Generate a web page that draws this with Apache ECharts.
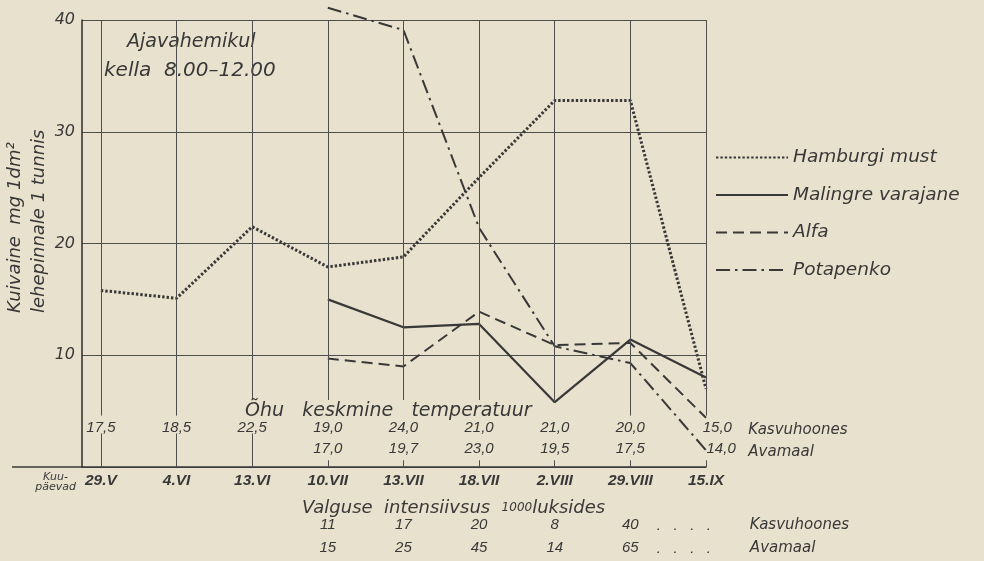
<!DOCTYPE html>
<html>
<head>
<meta charset="utf-8">
<script src="https://cdn.jsdelivr.net/npm/echarts@6/dist/echarts.min.js"></script>
<style>
html,body{margin:0;padding:0;background:#e8e1cd;}
#c{width:984px;height:561px;}
</style>
</head>
<body>
<div id="c"></div>
<script>
// ---- data ----
const dates = ['29.V','4.VI','13.VI','10.VII','13.VII','18.VII','2.VIII','29.VIII','15.IX'];
const hamburgi  = [15.8, 15.1, 21.5, 17.9, 18.8, 25.9, 32.8, 32.8, 7.0];
const malingre  = [null, null, null, 15.0, 12.5, 12.8, 5.8, 11.4, 8.0];
const alfa      = [null, null, null, 9.7, 9.0, 13.9, 10.9, 11.1, 4.4];
const potapenko = [null, null, null, 41.1, 39.1, 21.4, 10.8, 9.3, 1.5];
const tempGreenhouse = ['17,5','18,5','22,5','19,0','24,0','21,0','21,0','20,0','15,0'];
const tempOpen       = [null, null, null, '17,0','19,7','23,0','19,5','17,5','14,0'];
const lightGreenhouse = [null, null, null, 11, 17, 20, 8, 40, null];
const lightOpen       = [null, null, null, 15, 25, 45, 14, 65, null];
const seriesNames = ['Hamburgi must','Malingre varajane','Alfa','Potapenko'];
const yTicks = [10, 20, 30, 40];

// ---- chart ----
const INK = '#383838';
const GRID = '#4d4d4d';
const WORD = '"DejaVu Sans", sans-serif';
const NUM = '"Liberation Sans", Arial, sans-serif';

function pairs(arr){ return arr.map((v,i)=> v==null ? [i,null] : [i,v]); }

function txt(x, y, text, o){
  o = o || {};
  return {
    value:[x,y],
    label:{
      show:true, position:'inside', formatter:text,
      align:o.align||'center', verticalAlign:'middle',
      fontFamily:o.family||NUM, fontStyle:'italic',
      fontWeight:o.weight||'normal', fontSize:o.size||15, color:INK, opacity:1,
      lineHeight:o.lh||undefined, rich:o.rich||undefined
    }
  };
}

const texts = [];
texts.push(txt(3.8, 5.05, 'Õhu   keskmine   temperatuur', {family:WORD, size:19}));
tempGreenhouse.forEach((t,i)=>{ if(t) texts.push(txt(i===8?8.15:i, 3.5, t, {size:15})); });
tempOpen.forEach((t,i)=>{ if(t) texts.push(txt(i===8?8.2:i, 1.6, t, {size:15})); });
texts.push(txt(8.56, 3.3, 'Kasvuhoones', {align:'left', family:WORD, size:15}));
texts.push(txt(8.56, 1.3, 'Avamaal', {align:'left', family:WORD, size:15}));
texts.push(txt(2.66, -3.7, 'Valguse  intensiivsus  {s|1000}luksides', {align:'left', family:WORD, size:18,
  rich:{s:{fontSize:12, fontFamily:WORD, fontStyle:'italic', color:INK}}}));
lightGreenhouse.forEach((v,i)=>{ if(v!=null) texts.push(txt(i, -5.2, String(v), {size:15})); });
lightOpen.forEach((v,i)=>{ if(v!=null) texts.push(txt(i, -7.25, String(v), {size:15})); });
texts.push(txt(7.35, -5.3, '.   .   .   .', {align:'left', size:15}));
texts.push(txt(7.35, -7.35, '.   .   .   .', {align:'left', size:15}));
texts.push(txt(8.58, -5.2, 'Kasvuhoones', {align:'left', family:WORD, size:15}));
texts.push(txt(8.58, -7.25, 'Avamaal', {align:'left', family:WORD, size:15}));
texts.push(txt(-0.6, -1.35, 'Kuu-\npäevad', {family:WORD, size:11, lh:10}));

// vertical category lines
const vLines = [];
dates.forEach((d,i)=>{
  const underTitle = (i>=2 && i<=6);
  vLines.push([{coord:[i,40]},{coord:[i, underTitle?6.0:4.6]}]);
  if(i<=2) vLines.push([{coord:[i,3.0]},{coord:[i,0]}]);
  else vLines.push([{coord:[i,0.6]},{coord:[i,0]}]);
});

const lineCommon = {type:'line', symbol:'none', showSymbol:false, connectNulls:false, clip:false, silent:true};

const option = {
  backgroundColor:'#e8e1cd',
  animation:false,
  grid:{left:82, right:278, top:20, bottom:94},
  legend:{
    data:seriesNames, orient:'vertical', left:710, top:142,
    itemWidth:72, itemHeight:14, itemGap:16.5, selectedMode:false,
    itemStyle:{color:'rgba(0,0,0,0)', borderWidth:0, opacity:0},
    textStyle:{fontFamily:WORD, fontStyle:'italic', fontSize:18.5, color:INK, lineHeight:21}
  },
  xAxis:{
    type:'value', min:-0.25, max:8, interval:0.25,
    axisLine:{show:true, onZero:false, lineStyle:{color:INK, width:1.6}},
    axisTick:{show:false}, splitLine:{show:false},
    axisLabel:{
      margin:6, fontFamily:NUM, fontStyle:'italic', fontWeight:'bold', fontSize:15.5, color:INK,
      formatter:v=>{ const k=Math.round(v); return (Math.abs(v-k)<1e-6 && k>=0 && k<dates.length) ? dates[k] : ''; }
    }
  },
  yAxis:{
    type:'value', min:0, max:40, interval:10,
    axisLine:{show:true, onZero:false, lineStyle:{color:INK, width:1.6}},
    axisTick:{show:false},
    splitLine:{show:true, lineStyle:{color:GRID, width:1}},
    axisLabel:{margin:7, fontFamily:WORD, fontStyle:'italic', fontSize:16, color:INK,
      formatter:v=> yTicks.includes(v) ? String(v) : ''}
  },
  graphic:[
    {type:'line', shape:{x1:12, y1:467, x2:82, y2:467}, style:{stroke:INK, lineWidth:1.6}, silent:true},
    {type:'text', x:27, y:313, rotation:Math.PI/2, silent:true,
      style:{text:'Kuivaine  mg 1dm²\nlehepinnale 1 tunnis', fill:INK,
        font:'italic 18px "DejaVu Sans"', align:'left', verticalAlign:'middle', lineHeight:24}},
    {type:'text', x:127, y:42, silent:true,
      style:{text:'Ajavahemikul', fill:INK, font:'italic 19px "DejaVu Sans"', align:'left', verticalAlign:'middle'}},
    {type:'text', x:104, y:71, silent:true,
      style:{text:'kella  8.00–12.00', fill:INK, font:'italic 20px "DejaVu Sans"', align:'left', verticalAlign:'middle'}}
  ],
  series:[
    Object.assign({}, lineCommon, {name:seriesNames[0], data:pairs(hamburgi),
      lineStyle:{color:INK, width:3, type:[2.4,2]}, itemStyle:{color:INK}}),
    Object.assign({}, lineCommon, {name:seriesNames[1], data:pairs(malingre),
      lineStyle:{color:INK, width:2.2, type:'solid'}, itemStyle:{color:INK}}),
    Object.assign({}, lineCommon, {name:seriesNames[2], data:pairs(alfa),
      lineStyle:{color:INK, width:2, type:[11,6]}, itemStyle:{color:INK}}),
    Object.assign({}, lineCommon, {name:seriesNames[3], data:pairs(potapenko),
      lineStyle:{color:INK, width:2, type:[14,5,2.5,5]}, itemStyle:{color:INK}}),
    {
      type:'scatter', name:'texts', data:texts, symbolSize:1, clip:false, silent:true,
      itemStyle:{color:'rgba(0,0,0,0)'}, z:5,
      markLine:{silent:true, symbol:['none','none'], label:{show:false},
        lineStyle:{color:GRID, width:1, type:'solid'}, data:vLines}
    }
  ]
};

const chart = echarts.init(document.getElementById('c'), null, {renderer:'canvas'});
chart.setOption(option);
</script>
</body>
</html>
